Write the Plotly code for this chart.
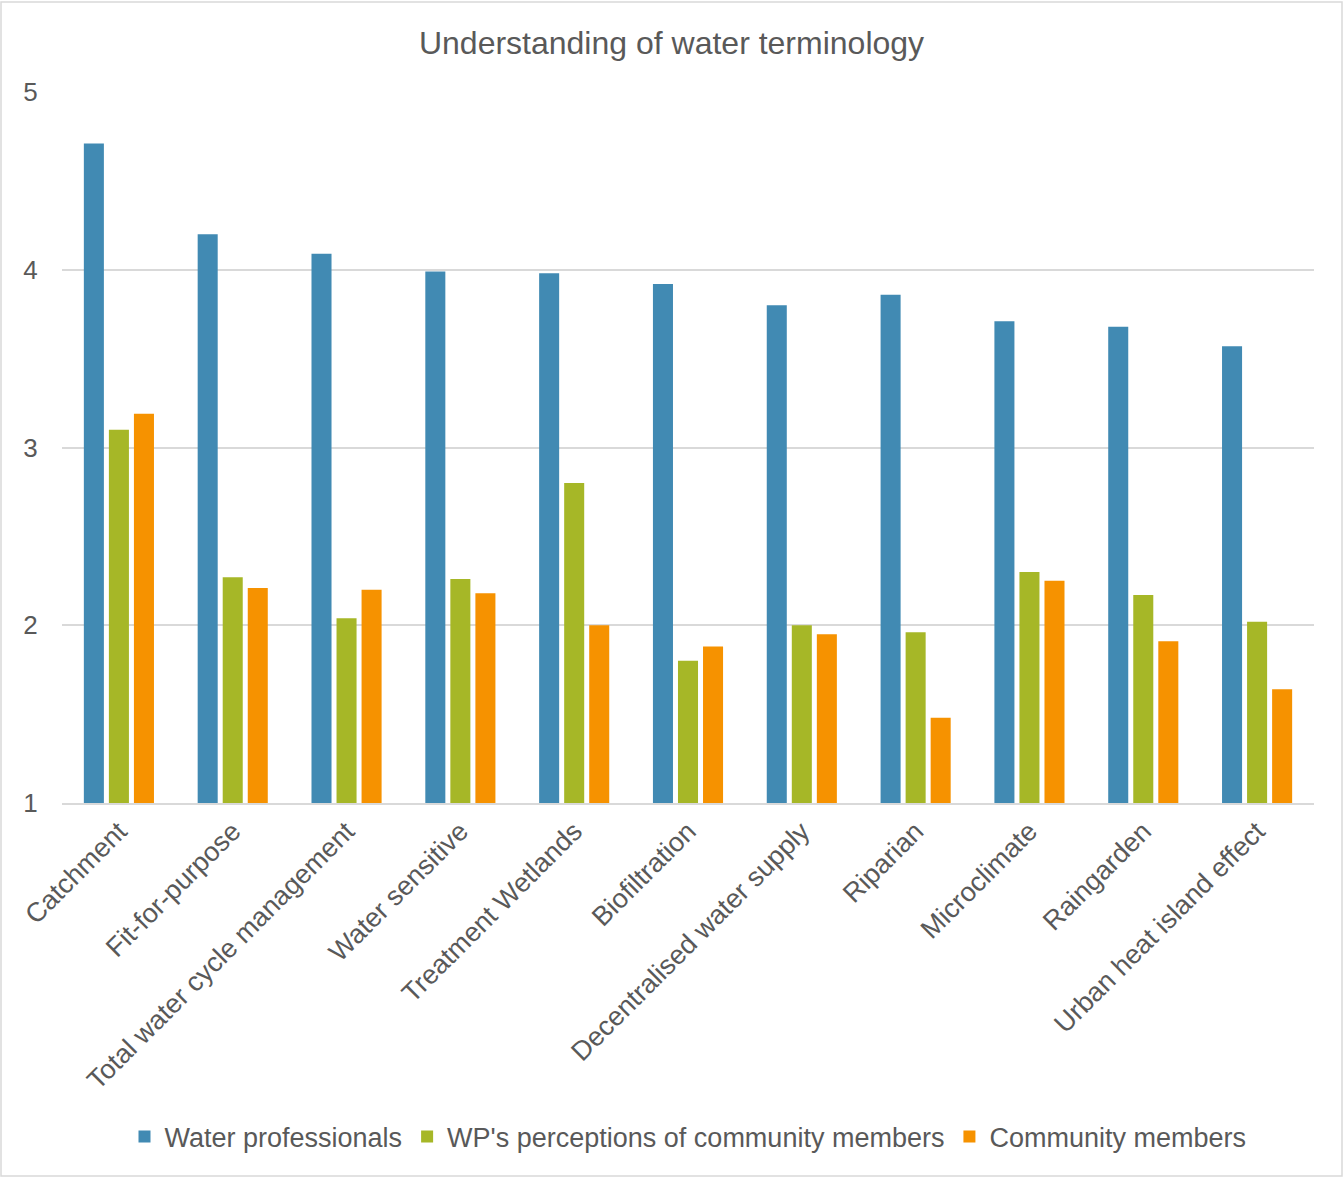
import plotly.graph_objects as go

categories = ["Catchment", "Fit-for-purpose", "Total water cycle management", "Water sensitive",
              "Treatment Wetlands", "Biofiltration", "Decentralised water supply", "Riparian",
              "Microclimate", "Raingarden", "Urban heat island effect"]
water_professionals = [4.71, 4.20, 4.09, 3.99, 3.98, 3.92, 3.80, 3.86, 3.71, 3.68, 3.57]
wp_perceptions = [3.10, 2.27, 2.04, 2.26, 2.80, 1.80, 2.00, 1.96, 2.30, 2.17, 2.02]
community_members = [3.19, 2.21, 2.20, 2.18, 2.00, 1.88, 1.95, 1.48, 2.25, 1.91, 1.64]
series_names = ["Water professionals", "WP's perceptions of community members", "Community members"]
colors = ["#418AB3", "#A6B727", "#F69200"]
y_ticks = [1, 2, 3, 4, 5]

fig = go.Figure()
for name, vals, col in zip(series_names, [water_professionals, wp_perceptions, community_members], colors):
    fig.add_trace(go.Bar(x=categories, y=vals, name=name, marker=dict(color=col, line=dict(width=0))))

W, H = 1343, 1178
L, R, T, B = 62, 1314, 92, 803
pw, ph = R - L, B - T

fig.update_layout(
    width=W, height=H,
    margin=dict(l=L, r=W - R, t=T, b=H - B, autoexpand=False),
    paper_bgcolor="white", plot_bgcolor="white",
    font=dict(family="Liberation Sans, Arial, sans-serif", color="#595959"),
    title=dict(text="Understanding of water terminology", x=0.5, xanchor="center",
               y=1 - 43 / H, yanchor="middle", font=dict(size=32, color="#595959")),
    barmode="group", bargap=0.34, bargroupgap=0.2,
    showlegend=True,
    legend=dict(orientation="h", x=0.5, xanchor="center", y=(B - 1137) / ph, yanchor="middle",
                font=dict(size=27, color="#595959"), itemwidth=30, traceorder="normal"),
    xaxis=dict(tickangle=-45, tickfont=dict(size=27, color="#595959"), showgrid=False,
               showline=True, linecolor="#D9D9D9", linewidth=1.5, ticks="", fixedrange=True),
    yaxis=dict(range=[1, 5], tickvals=y_ticks, tickfont=dict(size=26, color="#595959"),
               showgrid=True, gridcolor="#D9D9D9", gridwidth=1.5, zeroline=False,
               showline=False, ticks="outside", ticklen=18, tickcolor="rgba(0,0,0,0)"),
    shapes=[dict(type="rect", xref="paper", yref="paper",
                 x0=(1 - L) / pw, x1=(1342 - L) / pw, y0=(B - 1176) / ph, y1=(B - 2) / ph,
                 line=dict(color="#D9D9D9", width=1.5), fillcolor="rgba(0,0,0,0)", layer="below")],
)

fig.write_html("out.html")
